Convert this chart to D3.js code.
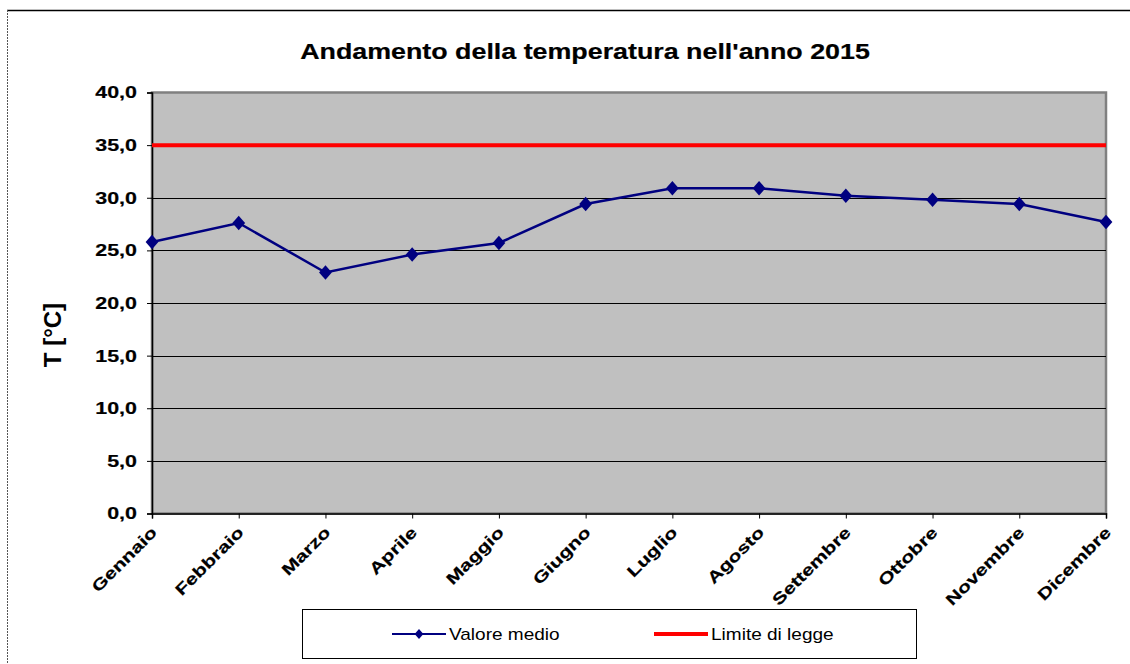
<!DOCTYPE html>
<html>
<head>
<meta charset="utf-8">
<script src="https://cdn.jsdelivr.net/npm/d3@7"></script>
<style>
  html, body { margin: 0; padding: 0; background: #fff; }
  svg { display: block; }
  text { font-family: "Liberation Sans", Arial, sans-serif; }
</style>
</head>
<body>
<svg id="chart" width="1130" height="664"></svg>
<script>
// ---- Data ----
const months = ["Gennaio","Febbraio","Marzo","Aprile","Maggio","Giugno","Luglio","Agosto","Settembre","Ottobre","Novembre","Dicembre"];
const valoreMedio = [25.8, 27.6, 22.9, 24.6, 25.7, 29.4, 30.9, 30.9, 30.2, 29.8, 29.4, 27.7];
const limiteDiLegge = 35;
const yTicks = [0, 5, 10, 15, 20, 25, 30, 35, 40];
const titleText = "Andamento della temperatura nell'anno 2015";
const yAxisTitle = "T [°C]";
const seriesNames = ["Valore medio", "Limite di legge"];

// ---- Layout ----
const svg = d3.select("#chart");
const plot = { left: 152, right: 1106, top: 92.5, bottom: 513.5 };
const x = d3.scalePoint().domain(months).range([plot.left, plot.right]);
const y = d3.scaleLinear().domain([0, 40]).range([plot.bottom, plot.top]);
const fmt = v => d3.format(".1f")(v).replace(".", ",");

// outer frame
svg.append("line").attr("x1", 7).attr("x2", 1130).attr("y1", 10.5).attr("y2", 10.5)
  .attr("stroke", "#000").attr("stroke-width", 1.5);
svg.append("line").attr("x1", 7.5).attr("x2", 7.5).attr("y1", 10).attr("y2", 664)
  .attr("stroke", "#555").attr("stroke-width", 1).attr("stroke-dasharray", "2,1");

// title
svg.append("text")
  .attr("transform", "translate(585,59) scale(1.22,1)")
  .attr("text-anchor", "middle")
  .attr("font-size", 22).attr("font-weight", "bold")
  .attr("fill", "#000").attr("stroke", "#000").attr("stroke-width", 0.2)
  .text(titleText);

// plot area
svg.append("rect")
  .attr("x", plot.left).attr("y", plot.top)
  .attr("width", plot.right - plot.left).attr("height", plot.bottom - plot.top)
  .attr("fill", "#C0C0C0").attr("stroke", "#808080").attr("stroke-width", 2.5);

// gridlines
svg.append("g").selectAll("line")
  .data(yTicks.filter(t => t > 0 && t < 40))
  .join("line")
  .attr("x1", plot.left).attr("x2", plot.right)
  .attr("y1", d => Math.round(y(d)) + 0.5).attr("y2", d => Math.round(y(d)) + 0.5)
  .attr("stroke", "#000").attr("stroke-width", 1);

// y axis
const yAxis = d3.axisLeft(y).tickValues(yTicks).tickSize(5).tickFormat("");
const gy = svg.append("g").attr("transform", `translate(${plot.left},0)`).call(yAxis);
gy.select(".domain").attr("stroke", "#000").attr("stroke-width", 1.5);
gy.selectAll(".tick line").attr("stroke", "#000");
svg.append("g").selectAll("text")
  .data(yTicks)
  .join("text")
  .attr("transform", d => `translate(137,${y(d)}) scale(1.3,1)`)
  .attr("dy", "0.36em")
  .attr("text-anchor", "end")
  .attr("font-size", 16.5).attr("font-weight", "bold")
  .attr("stroke", "#000").attr("stroke-width", 0.2)
  .text(d => fmt(d));

// x axis
const xAxis = d3.axisBottom(x).tickSize(5).tickFormat("");
const gx = svg.append("g").attr("transform", `translate(0,${plot.bottom})`).call(xAxis);
gx.select(".domain").attr("stroke", "#000").attr("stroke-width", 1.5);
gx.selectAll(".tick line").attr("stroke", "#000");
svg.append("g").selectAll("text")
  .data(months)
  .join("text")
  .attr("transform", d => `translate(${x(d) + 2},${plot.bottom + 16}) rotate(-45) scale(1.32,1)`)
  .attr("text-anchor", "end")
  .attr("dy", "0.35em")
  .attr("font-size", 16).attr("font-weight", "bold")
  .attr("stroke", "#000").attr("stroke-width", 0.2)
  .text(d => d);

// y axis title
svg.append("text")
  .attr("transform", "translate(61,335) rotate(-90)")
  .attr("text-anchor", "middle")
  .attr("font-size", 24).attr("font-weight", "bold")
  .text(yAxisTitle);

// limit line
svg.append("line")
  .attr("x1", plot.left).attr("x2", plot.right)
  .attr("y1", y(limiteDiLegge)).attr("y2", y(limiteDiLegge))
  .attr("stroke", "#FF0000").attr("stroke-width", 4);

// series
const diamond = {
  draw(ctx, size) {
    const h = Math.sqrt(size) / 2;
    const w = h * 0.88;
    ctx.moveTo(0, -h); ctx.lineTo(w, 0); ctx.lineTo(0, h); ctx.lineTo(-w, 0); ctx.closePath();
  }
};
const line = d3.line().x((d, i) => x(months[i])).y(d => y(d));
svg.append("path")
  .datum(valoreMedio)
  .attr("d", line)
  .attr("fill", "none").attr("stroke", "#000080").attr("stroke-width", 2.5);
svg.append("g").selectAll("path")
  .data(valoreMedio)
  .join("path")
  .attr("transform", (d, i) => `translate(${x(months[i])},${y(d)})`)
  .attr("d", d3.symbol().type(diamond).size(210))
  .attr("fill", "#000080");

// legend
const lg = svg.append("g");
lg.append("rect").attr("x", 302.5).attr("y", 609.5).attr("width", 614).attr("height", 49)
  .attr("fill", "#fff").attr("stroke", "#000").attr("stroke-width", 1);
lg.append("line").attr("x1", 392).attr("x2", 446).attr("y1", 634).attr("y2", 634)
  .attr("stroke", "#000080").attr("stroke-width", 2);
lg.append("path").attr("transform", "translate(419,634)")
  .attr("d", d3.symbol().type(diamond).size(100)).attr("fill", "#000080");
lg.append("text").attr("transform", "translate(449,634) scale(1.12,1)").attr("dy", "0.35em")
  .attr("font-size", 17).text(seriesNames[0]);
lg.append("line").attr("x1", 654).attr("x2", 708).attr("y1", 634).attr("y2", 634)
  .attr("stroke", "#FF0000").attr("stroke-width", 4);
lg.append("text").attr("transform", "translate(711,634) scale(1.12,1)").attr("dy", "0.35em")
  .attr("font-size", 17).text(seriesNames[1]);
</script>
</body>
</html>
